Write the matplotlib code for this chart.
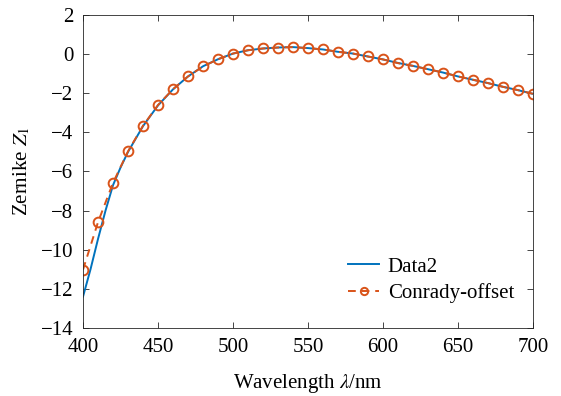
import numpy as np
import matplotlib
matplotlib.use('Agg')
import matplotlib.pyplot as plt

plt.rcParams['font.family'] = ['Liberation Serif', 'DejaVu Serif']
plt.rcParams['mathtext.fontset'] = 'stix'
plt.rcParams['font.size'] = 15

# Data2 (smooth measured curve)
wl_data = [400, 405, 410, 415, 420, 425, 430, 440, 450, 460, 470, 480, 490,
           500, 510, 520, 530, 540, 550, 560, 570, 580, 590, 600, 610, 620,
           630, 640, 650, 660, 670, 680, 690, 700]
z_data = [-12.4, -11.0, -9.45, -8.0, -6.7, -5.8, -5.0, -3.68, -2.62, -1.8,
          -1.14, -0.62, -0.26, 0.03, 0.2, 0.29, 0.34, 0.36, 0.31, 0.24,
          0.12, 0.03, -0.12, -0.27, -0.45, -0.6, -0.77, -0.94, -1.14, -1.31,
          -1.48, -1.67, -1.84, -2.03]

# Conrady-offset fit
wl_fit = [400, 410, 420, 430, 440, 450, 460, 470, 480, 490, 500, 510, 520,
          530, 540, 550, 560, 570, 580, 590, 600, 610, 620, 630, 640, 650,
          660, 670, 680, 690, 700]
z_fit = [-11.02, -8.59, -6.58, -4.97, -3.66, -2.6, -1.79, -1.14, -0.63,
         -0.26, 0.03, 0.2, 0.29, 0.34, 0.36, 0.31, 0.24, 0.12, 0.03, -0.12,
         -0.27, -0.46, -0.6, -0.77, -0.94, -1.14, -1.31, -1.48, -1.67, -1.84,
         -2.03]

fig = plt.figure(figsize=(5.61, 3.96), dpi=100)
ax = fig.add_axes([0.148, 0.172, 0.802, 0.790])

ax.plot(wl_data, z_data, color='#0072BD', lw=1.4, label='Data2')
ax.plot(wl_fit, z_fit, color='#D95319', lw=1.4, marker='o',
        ms=7, mfc='none', mew=1.4, dashes=(4, 3), label='Conrady-offset')

ax.set_xlim(400, 700)
ax.set_ylim(-14, 2)
ax.set_xticks(np.arange(400, 701, 50))
ax.set_yticks(np.arange(-14, 3, 2))
ax.tick_params(direction='in', top=True, right=True, length=4,
               width=0.6, colors='#262626', labelcolor='black')
ax.tick_params(axis='x', pad=7)
ax.tick_params(axis='y', pad=7)
for s in ax.spines.values():
    s.set_color('#262626')
    s.set_linewidth(0.6)

ax.set_xlabel(r'Wavelength $\lambda$/nm', labelpad=11)
ax.set_ylabel(r'Zernike $Z_1$', labelpad=6)

leg = ax.legend(loc='lower right', frameon=False, handlelength=1.5,
                handletextpad=0.4, markerscale=0.75, labelspacing=0.3,
                bbox_to_anchor=(1.0, 0.02))

plt.savefig('out.png', dpi=100)
